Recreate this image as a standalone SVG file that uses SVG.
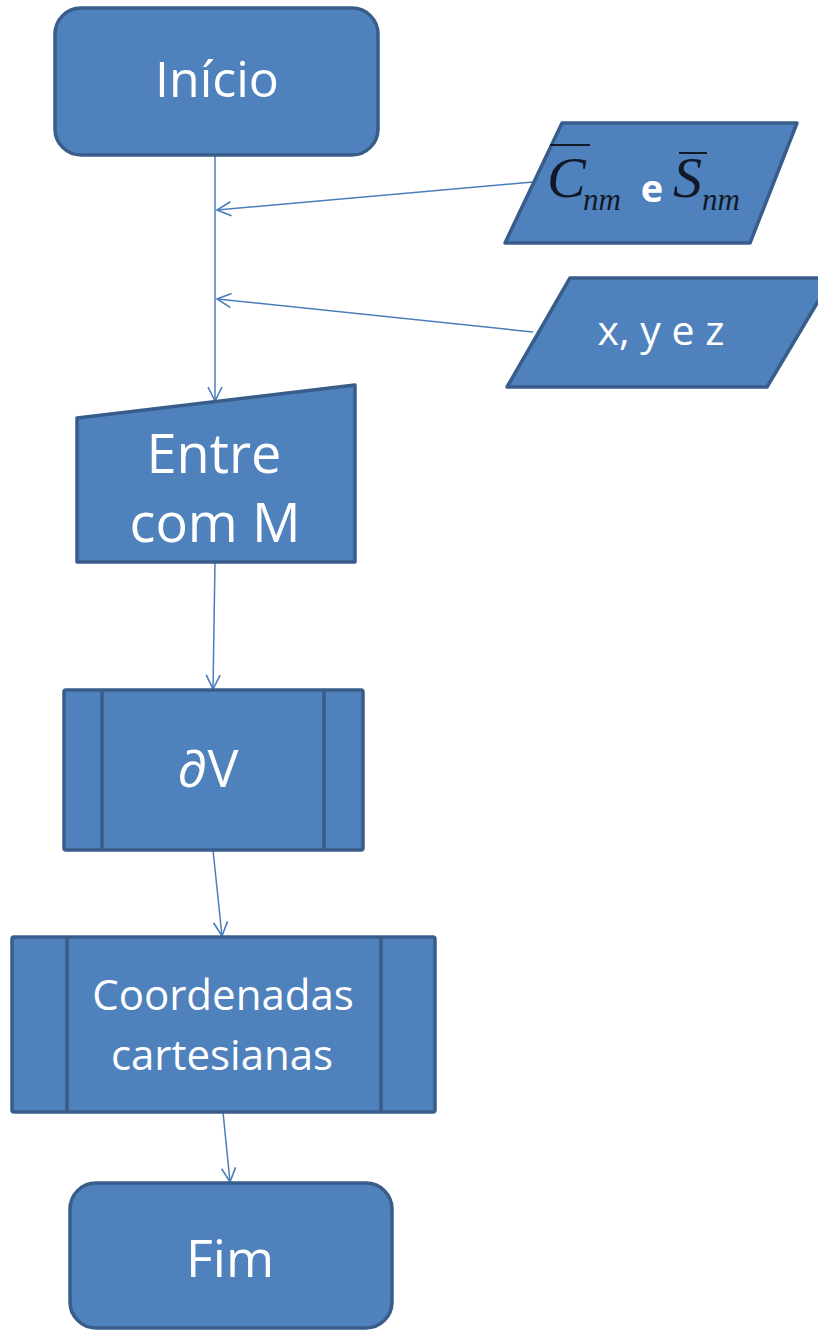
<svg xmlns="http://www.w3.org/2000/svg" width="818" height="1331" viewBox="0 0 818 1331">
<style>
.shape{fill:#4F81BD;stroke:#385D8A;stroke-width:3.5;stroke-linejoin:round}
.inner{fill:none;stroke:#385D8A;stroke-width:3.5}
.lbl{font-family:"Open Sans",Lato,"Liberation Sans",sans-serif;fill:#ffffff;text-anchor:middle}
.math{font-family:"Liberation Serif","DejaVu Serif",serif;font-style:italic;fill:#111827}
.conn{fill:none;stroke:#4A7EBB;stroke-width:1.5;marker-end:url(#arr)}
</style>
<defs>
<marker id="arr" viewBox="0 0 16 16" refX="15" refY="8" markerWidth="16" markerHeight="16" markerUnits="userSpaceOnUse" orient="auto">
<path d="M1,1 L15,8 L1,15" fill="none" stroke="#4A7EBB" stroke-width="1.6"/>
</marker>
</defs>
<rect width="818" height="1331" fill="#ffffff"/>
<g id="connectors">
<line class="conn" x1="215" y1="155" x2="215" y2="401"/>
<line class="conn" x1="533" y1="182" x2="217" y2="210"/>
<line class="conn" x1="533" y1="332" x2="217" y2="299"/>
<line class="conn" x1="215" y1="562" x2="213" y2="689"/>
<line class="conn" x1="213" y1="850" x2="222" y2="936"/>
<line class="conn" x1="223" y1="1112" x2="230" y2="1182"/>
</g>
<g id="inicio">
<rect class="shape" x="55" y="8" width="323" height="147" rx="26"/>
<text class="lbl" x="217" y="97" font-size="50">Início</text>
</g>
<g id="coef">
<polygon class="shape" points="562,123 797,123 750,243 505,243"/>
<line x1="550" y1="145" x2="590" y2="145" stroke="#111827" stroke-width="2"/>
<line x1="679" y1="153" x2="707" y2="153" stroke="#111827" stroke-width="2"/>
<text class="math" x="547" y="197" font-size="58">C</text>
<text class="math" x="583" y="210" font-size="31">nm</text>
<text x="652" y="202" font-size="38" font-weight="bold" fill="#ffffff" text-anchor="middle" font-family="'Open Sans',Lato,'Liberation Sans',sans-serif">e</text>
<text class="math" x="673" y="197" font-size="58">S</text>
<text class="math" x="702" y="210" font-size="31">nm</text>
</g>
<g id="xyz">
<polygon class="shape" points="570,278 832,278 767,387 507,387"/>
<text class="lbl" x="661" y="345" font-size="41">x, y e z</text>
</g>
<g id="entre">
<polygon class="shape" points="77,418 355,385 355,562 77,562"/>
<text class="lbl" x="214" y="473" font-size="54">Entre</text>
<text class="lbl" x="215" y="542" font-size="54">com M</text>
</g>
<g id="dv">
<rect class="shape" x="64" y="690" width="299" height="160" rx="2"/>
<line class="inner" x1="102" y1="690" x2="102" y2="850"/>
<line class="inner" x1="324" y1="690" x2="324" y2="850"/>
<text class="lbl" x="208" y="787" font-size="52">∂V</text>
</g>
<g id="coord">
<rect class="shape" x="12" y="937" width="423" height="175" rx="2"/>
<line class="inner" x1="67" y1="937" x2="67" y2="1112"/>
<line class="inner" x1="381" y1="937" x2="381" y2="1112"/>
<text class="lbl" x="223" y="1010" font-size="42">Coordenadas</text>
<text class="lbl" x="222" y="1070" font-size="42">cartesianas</text>
</g>
<g id="fim">
<rect class="shape" x="70" y="1183" width="322" height="145" rx="26"/>
<text class="lbl" x="230" y="1277" font-size="52">Fim</text>
</g>
</svg>
